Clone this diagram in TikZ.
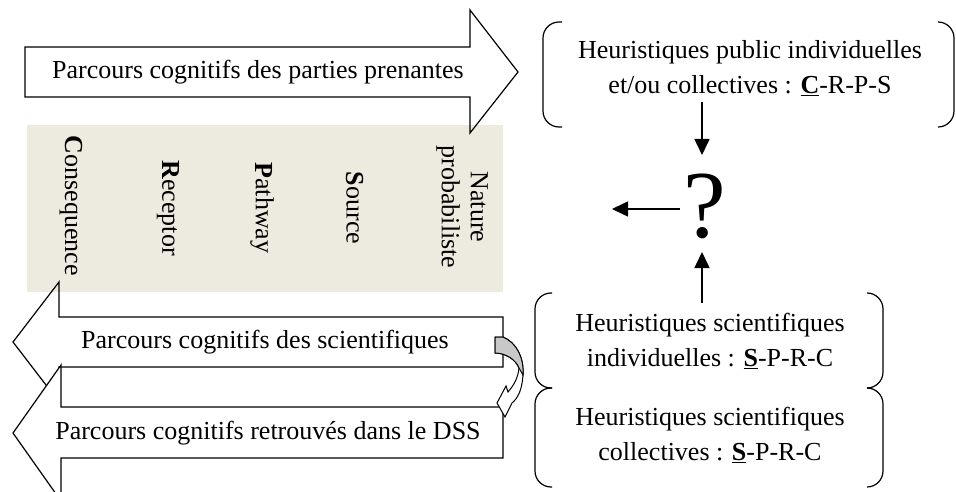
\documentclass[tikz,border=0pt]{standalone}
\usepackage{fontspec}
\setmainfont{Liberation Serif}
\usetikzlibrary{arrows.meta}
\definecolor{beige}{RGB}{237,234,224}
\definecolor{curvegray}{RGB}{200,200,200}
\begin{document}
\begin{tikzpicture}[x=1pt,y=-1pt,
  blockarrow/.style={draw=black, line width=1.2pt, line join=miter},
  brack/.style={draw=black, line width=1.2pt, rounded corners=16pt},
  conn/.style={line width=1.5pt, -{Triangle[length=16pt,width=15pt]}},
  txt/.style={font=\fontsize{26}{35}\selectfont, align=center, inner sep=0pt},
  vtxt/.style={font=\fontsize{26}{29}\selectfont, align=center, rotate=-90, inner sep=0pt}]
\useasboundingbox (0,0) rectangle (956,492);

% beige panel
\fill[beige] (27,125) rectangle (503,292);

% top block arrow (pointing right)
\draw[blockarrow] (25,47) -- (470,47) -- (470,10) -- (518,72) -- (470,133) -- (470,97) -- (25,97) -- cycle;
\node[txt] (t1) at (258,72) {Parcours cognitifs des parties prenantes};

% vertical labels
\node[vtxt] (cons) at (71,206) {\textbf{C}onsequence};
\node[vtxt] (rec) at (168,208) {\textbf{R}eceptor};
\node[vtxt] (path) at (262,208) {\textbf{P}athway};
\node[vtxt] (src) at (355,208) {\textbf{S}ource};
\node[vtxt] (nat) at (462,207) {Nature\\probabiliste};

% bottom block arrows (pointing left)
\draw[blockarrow] (503,317) -- (59,317) -- (59,282) -- (13,342) -- (59,402) -- (59,367) -- (503,367) -- cycle;
\node[txt] (t2) at (265,342) {Parcours cognitifs des scientifiques};
\draw[blockarrow, fill=white] (503,407) -- (61,407) -- (61,365) -- (13,433) -- (61,501) -- (61,458) -- (503,458) -- cycle;
\node[txt] (t3) at (268,433) {Parcours cognitifs retrouvés dans le DSS};

% curved arrow
\draw[line width=1pt, fill=white, line join=miter]
  (495,337) -- (503,337) .. controls (517,343) and (524,358) .. (523,375)
  .. controls (522,390) and (518,398) .. (512,403) -- (505,417) -- (497,403)
  -- (506,386) -- (508,392) .. controls (514,385) and (518,378) .. (519,368)
  .. controls (516,360) and (506,353) .. (495,353) -- cycle;
\draw[line width=1pt, fill=curvegray, line join=miter]
  (495,337) -- (503,337) .. controls (517,343) and (524,358) .. (523,375)
  -- (519,368) .. controls (516,360) and (506,353) .. (495,353) -- cycle;

% brackets top
\draw[brack] (562,22) -- (543,22) -- (543,127) -- (562,127);
\draw[brack] (938,22) -- (954,22) -- (954,127) -- (938,127);
\node[txt] (hpub) at (750,68) {Heuristiques public individuelles\\et/ou collectives : \underline{\textbf{C}}-R-P-S};

% brackets bottom
\draw[brack] (552,293) -- (535,293) -- (535,388) -- (552,388);
\draw[brack] (552,388) -- (535,388) -- (535,487) -- (552,487);
\draw[brack] (867,293) -- (883,293) -- (883,388) -- (867,388);
\draw[brack] (867,388) -- (883,388) -- (883,487) -- (867,487);
\node[txt] (hind) at (710,341) {Heuristiques scientifiques\\individuelles : \underline{\textbf{S}}-P-R-C};
\node[txt] (hcol) at (710,435) {Heuristiques scientifiques\\collectives : \underline{\textbf{S}}-P-R-C};

% question mark and connectors
\node[inner sep=0pt, font=\fontsize{96}{96}\selectfont] (q) at (705,206) {?};
\coordinate (downstart) at (702,102);
\coordinate (downend) at (702,155);
\coordinate (upstart) at (702,303);
\coordinate (upend) at (702,252);
\coordinate (lstart) at (680,209);
\coordinate (lend) at (612,209);
\draw[conn] (downstart) -- (downend);
\draw[conn] (upstart) -- (upend);
\draw[conn] (lstart) -- (lend);
\end{tikzpicture}
\end{document}
